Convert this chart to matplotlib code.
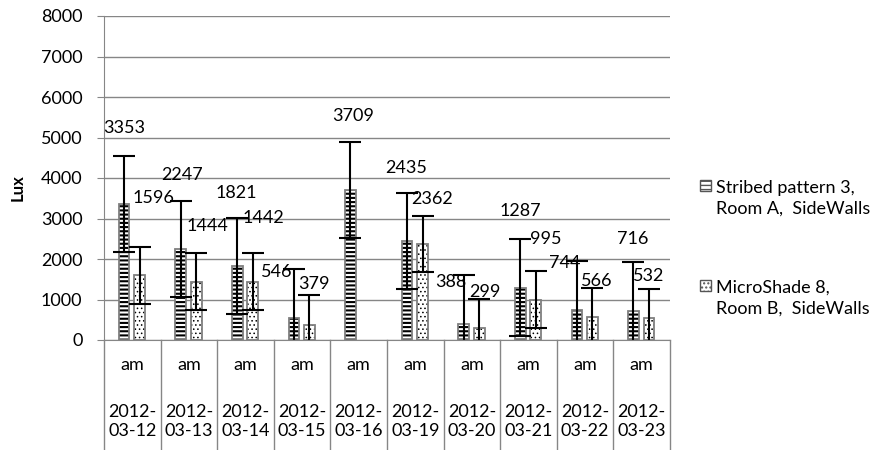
# Lux measurements, Room A vs Room B, side walls (am readings)
import numpy as np
import matplotlib as mpl
import matplotlib.pyplot as plt
from matplotlib.patches import Rectangle

mpl.rcParams["font.family"] = ["Lato", "DejaVu Sans"]
mpl.rcParams["font.size"] = 13

dates = ["2012-\n03-12", "2012-\n03-13", "2012-\n03-14", "2012-\n03-15", "2012-\n03-16",
         "2012-\n03-19", "2012-\n03-20", "2012-\n03-21", "2012-\n03-22", "2012-\n03-23"]
periods = ["am"] * 10
room_a = [3353, 2247, 1821, 546, 3709, 2435, 388, 1287, 744, 716]
room_b = [1596, 1444, 1442, 379, np.nan, 2362, 299, 995, 566, 532]
err_a = [1190, 1190, 1190, 1200, 1180, 1185, 1215, 1195, 1215, 1210]
err_b = [700, 700, 700, 720, np.nan, 690, 720, 700, 720, 720]
labels_a = ["3353", "2247", "1821", "546", "3709", "2435", "388", "1287", "744", "716"]
labels_b = ["1596", "1444", "1442", "379", "", "2362", "299", "995", "566", "532"]
series_names = ["Stribed pattern 3,\nRoom A,  SideWalls", "MicroShade 8,\nRoom B,  SideWalls"]

# where the data labels sit (category offset, lux)
lab_dx_a = [-0.14, -0.115, -0.16, -0.44, -0.10, -0.156, -0.38, -0.145, -0.357, -0.153]
lab_y_a = [5227, 4074, 3621, 1687, 5531, 4239, 1440, 3193, 1893, 2494]
lab_dx_b = [0.377, 0.334, 0.313, 0.204, 0.0, 0.30, 0.228, 0.304, 0.204, 0.13]
lab_y_b = [3514, 2815, 3004, 1383, 0, 3473, 1193, 2494, 1465, 1580]

grey = "#868686"
x = np.arange(len(dates))
w = 0.19

fig = plt.figure(figsize=(8.88, 4.5), dpi=100)
ax = fig.add_axes([104 / 888, 1 - 340 / 450, 566 / 888, 324 / 450])

ax.set_ylim(0, 8000)
ax.set_xlim(-0.5, len(dates) - 0.5)
ax.set_yticks(range(0, 8001, 1000))
ax.yaxis.grid(True, color=grey, linewidth=1)
ax.set_axisbelow(True)
for s in ["top", "right"]:
    ax.spines[s].set_visible(False)
for s in ["left", "bottom"]:
    ax.spines[s].set_color(grey)
ax.tick_params(axis="y", direction="out", length=5, color=grey, pad=10.5)
ax.tick_params(axis="x", length=0, labelbottom=False)

with mpl.rc_context({"hatch.linewidth": 1.5, "hatch.color": "black"}):
    ax.bar(x - 0.145, room_a, w, color="white", edgecolor="black", hatch="----", linewidth=0)
with mpl.rc_context({"hatch.linewidth": 0.6, "hatch.color": "black"}):
    ax.bar(x + 0.13, room_b, w, color="white", edgecolor="black", hatch="....", linewidth=0)
ax.bar(x - 0.145, room_a, w, fill=False, edgecolor="#7f7f7f", linewidth=1.3)
ax.bar(x + 0.13, room_b, w, fill=False, edgecolor="#7f7f7f", linewidth=1.3)

ax.errorbar(x - 0.145, room_a, yerr=err_a, fmt="none", ecolor="black", elinewidth=1.5,
            capsize=8, capthick=1.5)
ax.errorbar(x + 0.13, room_b, yerr=err_b, fmt="none", ecolor="black", elinewidth=1.5,
            capsize=8, capthick=1.5)

for i in range(len(dates)):
    ax.text(i + lab_dx_a[i], lab_y_a[i], labels_a[i], ha="center", va="center")
    if labels_b[i]:
        ax.text(i + lab_dx_b[i], lab_y_b[i], labels_b[i], ha="center", va="center")

# two-level category axis
tr = ax.get_xaxis_transform()
for i in range(len(dates)):
    ax.text(i, -0.077, periods[i], transform=tr, ha="center", va="center")
    ax.text(i, -0.252, dates[i], transform=tr, ha="center", va="center", linespacing=1.2)
for b in np.arange(len(dates) + 1) - 0.5:
    ax.plot([b, b], [0, -0.36], transform=tr, color=grey, linewidth=1, clip_on=False)

fig.text(18 / 888, 1 - 188 / 450, "Lux", rotation=90, ha="center", va="center",
         fontsize=12, fontweight="bold")

# legend
leg_y = [198, 298]
hatches = ["----", "...."]
for k in range(2):
    yc = 1 - leg_y[k] / 450
    r = Rectangle((700 / 888, yc + 7 / 450), 11 / 888, 11 / 450, transform=fig.transFigure,
                  facecolor="white", edgecolor="#555555", hatch=hatches[k], linewidth=1)
    fig.add_artist(r)
    fig.text(716 / 888, yc, series_names[k], ha="left", va="center", linespacing=1.35)

fig.savefig("out.png", dpi=100)
